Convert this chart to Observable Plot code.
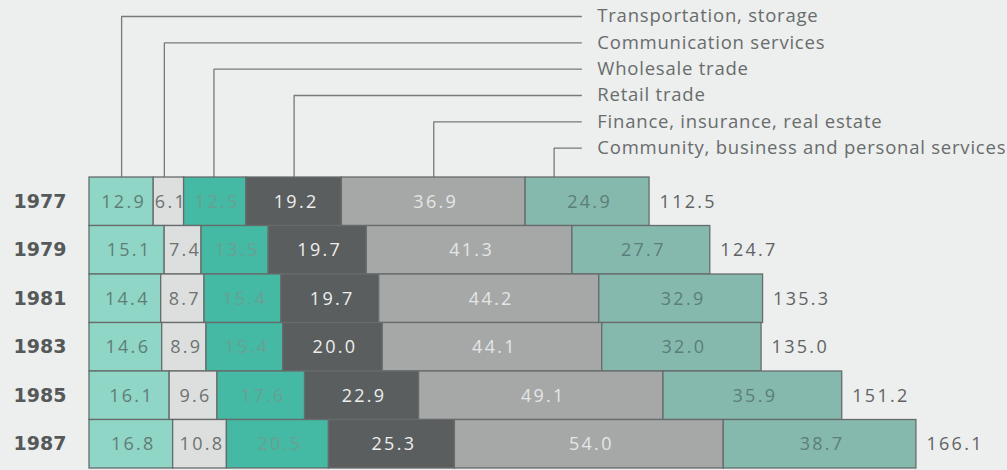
<!DOCTYPE html>
<html><head><meta charset="utf-8">
<script src="https://cdn.jsdelivr.net/npm/d3@7"></script>
<script src="https://cdn.jsdelivr.net/npm/@observablehq/plot@0.6"></script>
<style>html,body{margin:0;padding:0;background:#edefee;}</style>
</head><body><div id="chart"></div>
<script>
const years = ["1977", "1979", "1981", "1983", "1985", "1987"];
const sectors = ["Transportation, storage", "Communication services", "Wholesale trade", "Retail trade", "Finance, insurance, real estate", "Community, business and personal services"];
const transportation = [12.9, 15.1, 14.4, 14.6, 16.1, 16.8];
const communication = [6.1, 7.4, 8.7, 8.9, 9.6, 10.8];
const wholesale = [12.5, 13.5, 15.4, 15.4, 17.6, 20.5];
const retail = [19.2, 19.7, 19.7, 20.0, 22.9, 25.3];
const finance = [36.9, 41.3, 44.2, 44.1, 49.1, 54.0];
const community = [24.9, 27.7, 32.9, 32.0, 35.9, 38.7];
const totals = [112.5, 124.7, 135.3, 135.0, 151.2, 166.1];

const series = [transportation, communication, wholesale, retail, finance, community];
const fills = ["#8fd6c6", "#dcdfde", "#44b9a3", "#5a5e5e", "#a6a8a8", "#86b9ae"];
const textColors = ["#5f7d77", "#6e7272", "#6aa093", "#eeeeee", "#e4e6e6", "#5b7e79"];
const leaderFrac = [0.5, 0.35, 0.48, 0.5, 0.5, 0.23];

// build stacked segments
const segs = [];
years.forEach((yr, i) => {
  let acc = 0;
  series.forEach((s, j) => {
    segs.push({year: yr, row: i, sector: sectors[j], j, value: s[i], x1: acc, x2: acc + s[i]});
    acc += s[i];
  });
});

// leader lines (from the 1977 bar up to the label rows)
const labelTop = -3.32, labelStep = 0.543, lineEnd = 98.8, textStart = 102.0;
const leaders = [];
const labels = [];
sectors.forEach((name, j) => {
  const seg = segs.find(d => d.row === 0 && d.j === j);
  const lx = seg.x1 + leaderFrac[j] * seg.value;
  const ly = labelTop + labelStep * j;
  leaders.push({sector: name, x: lx, y: 0});
  leaders.push({sector: name, x: lx, y: ly});
  leaders.push({sector: name, x: lineEnd, y: ly});
  labels.push({sector: name, x: textStart, y: ly});
});

const chart = Plot.plot({
  width: 1007,
  height: 470,
  marginLeft: 89,
  marginRight: 0,
  marginTop: 0,
  marginBottom: 2,
  style: {fontFamily: "'Open Sans', sans-serif", background: "#edefee"},
  x: {domain: [0, 184.4], axis: null},
  y: {domain: [-3.65, 6], reverse: true, axis: null},
  color: {domain: sectors, range: fills},
  marks: [
    Plot.line(leaders, {x: "x", y: "y", z: "sector", stroke: "#767a7a", strokeWidth: 1.3}),
    Plot.text(labels, {x: "x", y: "y", text: "sector", textAnchor: "start", fill: "#686c6c", fontSize: 18.5}),
    Plot.rect(segs, {x1: "x1", x2: "x2", y1: d => d.row, y2: d => d.row + 1, fill: "sector", stroke: "#676b6b", strokeWidth: 1.3}),
    Plot.text(segs, {x: d => (d.x1 + d.x2) / 2, y: d => d.row + 0.5, text: d => d.value.toFixed(1), dx: 2, fill: d => textColors[d.j], fontSize: 18}),
    Plot.text(years, {x: 0, y: (d, i) => i + 0.5, text: d => d, dx: -23, textAnchor: "end", fill: "#555959", fontWeight: "bold", fontSize: 19, fontFamily: "'DejaVu Sans', sans-serif"}),
    Plot.text(totals, {x: d => d, y: (d, i) => i + 0.5, text: d => d.toFixed(1), dx: 10, textAnchor: "start", fill: "#5f6363", fontSize: 18})
  ]
});
// letter spacing per text layer (legend, segment values, years, totals)
const spacing = ["0.78px", "2.3px", "0px", "2.3px"];
d3.select(chart).selectAll('g[aria-label="text"]').each(function(_, i) {
  d3.select(this).style("letter-spacing", spacing[i]).selectAll("text").style("letter-spacing", spacing[i]);
});
document.getElementById("chart").appendChild(chart);
</script>
</body></html>
